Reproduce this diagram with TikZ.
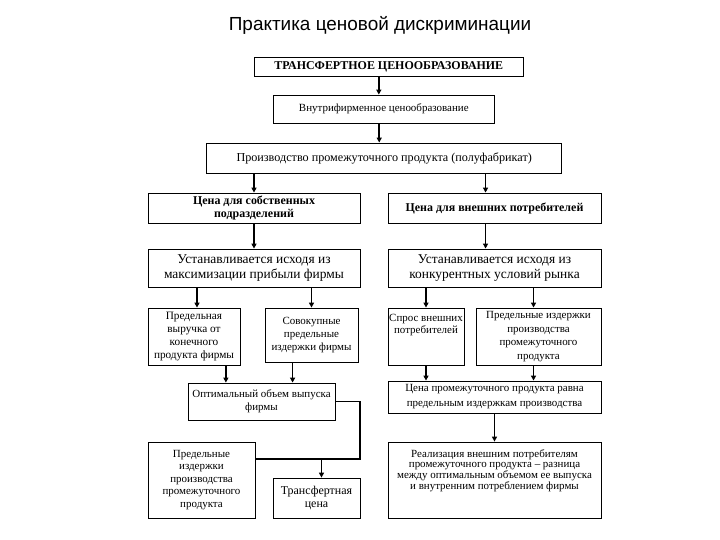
\documentclass[tikz,border=0pt]{standalone}
\usepackage{fontspec}
\setmainfont{Liberation Serif}
\newfontfamily\titlefont{Liberation Sans}
\usetikzlibrary{arrows.meta}

\tikzset{
  box/.style={draw, line width=.8bp, align=center, inner sep=2bp,
    font=\fontsize{11}{13}\selectfont},
  boldbox/.style={box, font=\bfseries\fontsize{12}{14}\selectfont},
  bigbox/.style={box, font=\fontsize{13.5}{15}\selectfont},
  link/.style={line width=1.6bp},
  arrow/.style={link, -{Triangle[width=5bp,length=5bp]}},
}

\begin{document}
\begin{tikzpicture}[x=1bp,y=-1bp]
\useasboundingbox (0,0) rectangle (720,540);
\node (title) at (380,25) {\titlefont\fontsize{19}{22}\selectfont Практика ценовой дискриминации};

% top chain
\node (transfer) [boldbox, minimum width=269bp, minimum height=19bp] at (388.8,66.5) {ТРАНСФЕРТНОЕ ЦЕНООБРАЗОВАНИЕ};
\node (inhouse) [box, minimum width=221bp, minimum height=28bp] at (383.8,109) {Внутрифирменное ценообразование};
\node (making) [box, minimum width=355bp, minimum height=30bp, font=\fontsize{12.2}{14}\selectfont] at (384.2,158) {Производство промежуточного продукта (полуфабрикат)};

% two branches
\node (ownprice) [boldbox, minimum width=212bp, minimum height=30bp] at (254,208) {Цена для собственных\\ подразделений};
\node (extprice) [boldbox, minimum width=213bp, minimum height=30bp] at (494.5,208) {Цена для внешних потребителей};
\node (maxprofit) [bigbox, minimum width=212bp, minimum height=38bp] at (254,268) {Устанавливается исходя из\\ максимизации прибыли фирмы};
\node (market) [bigbox, minimum width=213bp, minimum height=38bp] at (494.5,268) {Устанавливается исходя из\\ конкурентных условий рынка};

\node (revenue) [box, minimum width=92bp, minimum height=57bp, font=\fontsize{11.3}{13}\selectfont] at (194,336.5) {Предельная\\ выручка от\\ конечного\\ продукта фирмы};
\node (totalcost) [box, minimum width=93bp, minimum height=54bp] at (311.5,335) {Совокупные\\ предельные\\ издержки фирмы};
\node (demand) [box, inner sep=0pt, minimum width=76bp, minimum height=57bp] at (426,336.5) {\parbox[c][57bp][t]{76bp}{\centering\rule{0pt}{13bp}Спрос внешних\\ потребителей}};
\node (prodcost) [box, minimum width=125bp, minimum height=57bp, font=\fontsize{11}{13.5}\selectfont] at (538.5,336.5) {Предельные издержки\\ производства\\ промежуточного\\ продукта};

\node (optimum) [box, minimum width=147bp, minimum height=37bp] at (261.5,401.5) {Оптимальный объем выпуска\\ фирмы};
\node (equalprice) [box, minimum width=213bp, minimum height=32bp, font=\fontsize{11}{15}\selectfont] at (494.5,397) {Цена промежуточного продукта равна\\ предельным издержкам производства};

\node (unitcost) [box, minimum width=107bp, minimum height=76bp, font=\fontsize{11}{12.5}\selectfont] at (201.5,480) {Предельные\\ издержки\\ производства\\ промежуточного\\ продукта};
\node (tprice) [box, minimum width=87bp, minimum height=40bp, font=\fontsize{12}{14}\selectfont] at (316.5,498) {Трансфертная\\ цена};
\node (sales) [box, inner sep=0pt, minimum width=213bp, minimum height=76bp, font=\fontsize{11}{11}\selectfont] at (494.5,480) {\parbox[c][76bp][t]{213bp}{\centering\rule{0pt}{15bp}Реализация внешним потребителям\\ промежуточного продукта – разница\\ между оптимальным объемом ее выпуска\\ и внутренним потреблением фирмы}};

% connectors
\draw[arrow] ([xshift=-5]inhouse.north |- transfer.south) -- ([xshift=-5]inhouse.north);
\draw[arrow] ([xshift=-5]making.north |- inhouse.south) -- ([xshift=-5]making.north);
\draw[arrow] (ownprice.north |- making.south) -- (ownprice.north);
\draw[arrow] ([xshift=-9]extprice.north |- making.south) -- ([xshift=-9]extprice.north);
\draw[arrow] (ownprice) -- (maxprofit);
\draw[arrow] ([xshift=-9]extprice.south) -- ([xshift=-9]market.north);

\draw[arrow] ([xshift=3]revenue.north |- maxprofit.south) -- ([xshift=3]revenue.north);
\draw[arrow] (totalcost.north |- maxprofit.south) -- (totalcost.north);
\draw[arrow] (demand.north |- market.south) -- (demand.north);
\draw[arrow] ([xshift=-5]prodcost.north |- market.south) -- ([xshift=-5]prodcost.north);

\draw[arrow] ([xshift=32]revenue.south) -- ([xshift=32]revenue.south |- optimum.north);
\draw[arrow] ([xshift=-19]totalcost.south) -- ([xshift=-19]totalcost.south |- optimum.north);
\draw[arrow] (demand.south) -- (demand.south |- equalprice.north);
\draw[arrow] ([xshift=-5]prodcost.south) -- ([xshift=-5]prodcost.south |- equalprice.north);

\coordinate (merge) at (360,459);
\draw[link] (optimum.east) -| (merge) -- (merge -| unitcost.east);
\draw[arrow] ([xshift=5]tprice.north |- merge) -- ([xshift=5]tprice.north);
\draw[arrow] (equalprice) -- (sales);
\end{tikzpicture}
\end{document}
